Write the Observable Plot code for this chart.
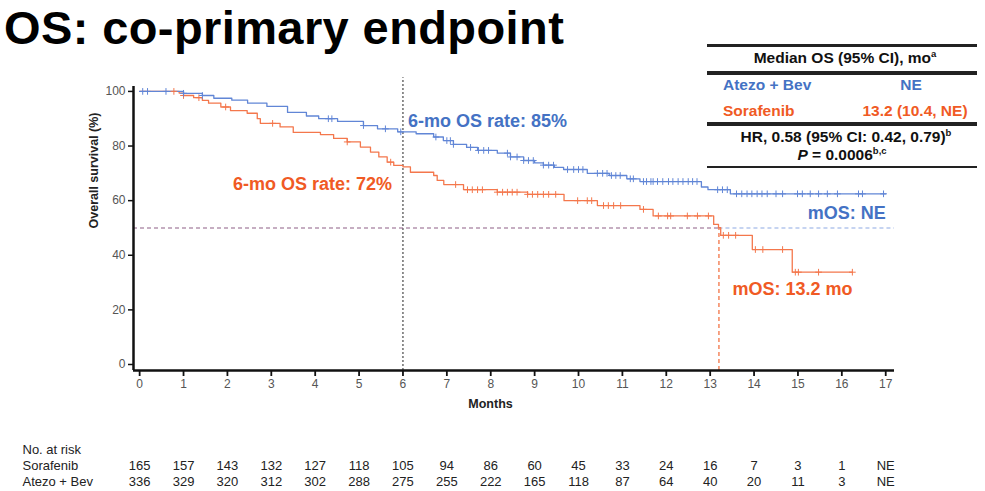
<!DOCTYPE html>
<html>
<head>
<meta charset="utf-8">
<script src="https://cdn.jsdelivr.net/npm/d3@7"></script>
<script src="https://cdn.jsdelivr.net/npm/@observablehq/plot@0.6"></script>
<style>
body{margin:0;background:#fff;}
#wrap{position:relative;width:985px;height:491px;overflow:hidden;font-family:"Liberation Sans",Arial,sans-serif;}
#title{position:absolute;left:4px;top:0px;font-weight:bold;font-size:47px;line-height:normal;letter-spacing:0.4px;color:#000;white-space:nowrap;}
#main{position:absolute;left:0;top:50px;}
#risk{position:absolute;left:0;top:420px;}
#stats{position:absolute;left:707px;top:43px;width:270px;height:130px;font-weight:bold;font-size:15.5px;color:#111;}
.rule{position:absolute;left:0;width:270px;background:#222;}
.t{position:absolute;white-space:nowrap;line-height:1;}
.c{transform:translate(-50%,-50%);}
.l{transform:translate(0,-50%);}
sup{font-size:9.5px;vertical-align:6px;line-height:0;}
</style>
</head>
<body>
<div id="wrap">
  <div id="title"></div>
  <div id="main"></div>
  <div id="risk"></div>
  <div id="stats"></div>
</div>
<script>
// ---------- data ----------
const titleText = "OS: co-primary endpoint";

const monthTicks = [0,1,2,3,4,5,6,7,8,9,10,11,12,13,14,15,16,17];
const survTicks = [0,20,40,60,80,100];

// Atezo + Bev KM step points (months, survival %)
const atezoTime = [0,1.0,1.43,1.69,2.1,2.46,2.9,3.37,3.8,4.08,4.51,5.1,5.42,5.88,6.3,6.7,6.92,7.15,7.45,7.7,8.15,8.45,8.75,9.0,9.2,9.45,9.66,10.2,10.7,11.1,11.4,12.8,12.95,13.46,17.0];
const atezoSurv = [100,99.3,98.5,97.5,96.8,95.7,94.5,92.3,91,90,89,87.5,86.3,85.2,84.5,83.3,82,80.6,79.5,78.4,77.4,76,74.7,73.8,73,72.2,71.4,70,69.2,68,67,65,64,62.5,62.5];
const atezoCensor = [0.07,0.18,0.6,1.0,1.43,4.3,4.38,5.1,5.6,5.95,6.75,7.0,7.08,7.15,7.54,7.72,7.84,7.95,8.38,8.45,8.6,8.75,8.86,8.97,9.2,9.32,9.43,9.75,9.89,10.0,10.1,10.43,10.55,10.65,10.75,10.85,10.95,11.18,11.25,11.48,11.55,11.65,11.7,11.8,11.92,12.05,12.15,12.27,12.38,12.5,12.6,12.7,13.17,13.28,13.39,13.6,13.72,13.84,13.95,14.07,14.18,14.3,14.5,14.65,14.99,15.1,15.28,15.47,15.67,15.9,16.38,16.47,16.95];

// Sorafenib KM step points
const sorafTime = [0,0.9,1.0,1.23,1.43,1.57,1.85,2.07,2.45,2.68,2.75,3.2,3.5,4.12,4.42,4.73,5.03,5.26,5.45,5.64,5.79,6.0,6.17,6.7,6.78,6.93,7.38,8.15,8.84,9.67,10.43,11.4,11.7,13.08,13.19,13.24,13.96,14.87,16.24];
const sorafSurv = [100,99.4,98.5,97.7,96.7,95.7,94.3,93,92,90,88.3,87,85,84.2,82.8,81.5,79.6,77.8,76,74.1,72.9,72.4,70.4,69.2,67.4,65.9,64,63.1,62.3,60,58.2,56.8,54.4,51.3,50.1,47.3,42.1,33.8,33.8];
const sorafCensor = [0.78,1.0,1.35,1.96,3.03,4.73,5.72,7.2,7.47,7.58,7.7,7.81,8.15,8.27,8.38,8.49,8.6,8.84,8.95,9.07,9.2,9.32,9.48,9.98,10.2,10.3,10.57,10.68,10.8,10.96,11.48,11.82,12.03,12.1,12.48,12.71,12.96,13.3,13.42,13.58,14.03,14.2,14.65,14.94,15.01,15.47,16.24];

const sixMonth = 6;
const atezoSixRate = 85;
const sorafSixRate = 72;
const medianLevel = 50;
const sorafMedian = 13.2;
const lastMonth = 17;

const armNames = ["Sorafenib", "Atezo + Bev"];
const riskHeader = "No. at risk";
const sorafRisk = [165,157,143,132,127,118,105,94,86,60,45,33,24,16,7,3,1,"NE"];
const atezoRisk = [336,329,320,312,302,288,275,255,222,165,118,87,64,40,20,11,3,"NE"];

const statsHeader = 'Median OS (95% CI), mo<sup>a</sup>';
const statsArms = ["Atezo + Bev", "Sorafenib"];
const statsValues = ["NE", "13.2 (10.4, NE)"];
const statsHR = 'HR, 0.58 (95% CI: 0.42, 0.79)<sup>b</sup>';
const statsP = '<i>P</i> = 0.0006<sup>b,c</sup>';

// ---------- styling ----------
const blue = "#4472c4", red = "#f05a24";
const blueLine = "#6186d6", redLine = "#f4774c";
const xDomain = [-0.14, 17.2];
const yDomain = [-2.2, 101.8];

function stepAt(times, surv, t) {
  const i = Math.max(0, d3.bisectRight(times, t) - 1);
  return surv[i];
}

const atezo = atezoTime.map((t, i) => ({t, s: atezoSurv[i]}));
const soraf = sorafTime.map((t, i) => ({t, s: sorafSurv[i]}));
const censA = atezoCensor.map(t => ({t, s: stepAt(atezoTime, atezoSurv, t)}));
const censS = sorafCensor.map(t => ({t, s: stepAt(sorafTime, sorafSurv, t)}));

document.getElementById("title").textContent = titleText;

const main = Plot.plot({
  width: 985, height: 370,
  marginTop: 36, marginBottom: 50, marginLeft: 133, marginRight: 91,
  x: {domain: xDomain},
  y: {domain: yDomain},
  style: {fontFamily: "Liberation Sans, Arial, sans-serif", fontSize: "12px", background: "transparent", overflow: "visible"},
  marks: [
    Plot.ruleX([sixMonth], {y1: yDomain[0], y2: 105, stroke: "#222", strokeDasharray: "2,2", strokeWidth: 1}),
    Plot.ruleY([medianLevel], {x1: xDomain[0], x2: sorafMedian, stroke: "#8e5f86", strokeDasharray: "4,3", strokeWidth: 1.1}),
    Plot.ruleY([medianLevel], {x1: sorafMedian, x2: xDomain[1], stroke: "#8ea9e3", strokeDasharray: "4,3", strokeWidth: 1.1}),
    Plot.ruleX([sorafMedian], {y1: yDomain[0], y2: medianLevel, stroke: red, strokeDasharray: "4,3", strokeWidth: 1.1}),
    Plot.line(soraf, {x: "t", y: "s", curve: "step-after", stroke: redLine, strokeWidth: 1.3}),
    Plot.line(atezo, {x: "t", y: "s", curve: "step-after", stroke: blueLine, strokeWidth: 1.3}),
    Plot.dot(censS, {x: "t", y: "s", symbol: "plus", r: 2.3, stroke: redLine, strokeWidth: 1}),
    Plot.dot(censA, {x: "t", y: "s", symbol: "plus", r: 2.3, stroke: blueLine, strokeWidth: 1}),
    // axis lines (offset frame)
    Plot.ruleY([yDomain[0]], {x1: xDomain[0], x2: xDomain[1], stroke: "#111", strokeWidth: 2.5}),
    Plot.ruleX([xDomain[0]], {y1: yDomain[0], y2: yDomain[1], stroke: "#111", strokeWidth: 2.5}),
    Plot.axisX({ticks: monthTicks, tickFormat: d => d, tickSize: 6, tickPadding: 3, stroke: "#111", strokeWidth: 1.8, fill: "#555", label: null}),
    Plot.axisY({ticks: survTicks, tickFormat: d => d, tickSize: 5, tickPadding: 3, stroke: "#111", strokeWidth: 1.5, fill: "#555", label: null}),
    Plot.text(["Months"], {frameAnchor: "bottom", dx: -23.5, dy: 37, fontWeight: "bold", fontSize: 12.5, fill: "#222"}),
    Plot.text(["Overall survival (%)"], {frameAnchor: "left", rotate: -90, dx: -40, fontWeight: "bold", fontSize: 12.5, fill: "#222"}),
    // annotations
    Plot.text([{t: sixMonth, s: atezoSixRate}], {x: "t", y: "s", text: d => `6-mo OS rate: ${d.s}%`, dx: 5, dy: -11, textAnchor: "start", fill: blue, fontWeight: "bold", fontSize: 18}),
    Plot.text([{t: sixMonth, s: sorafSixRate}], {x: "t", y: "s", text: d => `6-mo OS rate: ${d.s}%`, dx: -11, dy: 16, textAnchor: "end", fill: red, fontWeight: "bold", fontSize: 18}),
    Plot.text([{t: lastMonth, s: medianLevel}], {x: "t", y: "s", text: () => "mOS: NE", dy: -14.5, textAnchor: "end", fill: blue, fontWeight: "bold", fontSize: 18}),
    Plot.text([{t: sorafMedian, s: medianLevel}], {x: "t", y: "s", text: d => `mOS: ${d.t} mo`, dx: 13.5, dy: 61, textAnchor: "start", fill: red, fontWeight: "bold", fontSize: 18})
  ]
});
document.getElementById("main").append(main);

const riskData = [
  ...sorafRisk.map((n, i) => ({arm: armNames[0], t: monthTicks[i], n})),
  ...atezoRisk.map((n, i) => ({arm: armNames[1], t: monthTicks[i], n}))
];
const risk = Plot.plot({
  width: 985, height: 71,
  marginTop: 0, marginBottom: 0, marginLeft: 133, marginRight: 91,
  x: {domain: xDomain, axis: null},
  y: {type: "point", domain: [riskHeader, ...armNames], range: [29, 61], padding: 0, axis: null},
  style: {fontFamily: "'Liberation Sans Narrow', 'Arial Narrow', 'Liberation Sans', sans-serif", fontSize: "13px", background: "transparent", overflow: "visible"},
  marks: [
    Plot.text(riskData, {x: "t", y: "arm", text: "n", fill: "#222"}),
    Plot.text([riskHeader, ...armNames], {y: d => d, text: d => d, frameAnchor: "left", dx: -111, textAnchor: "start", fill: "#222"})
  ]
});
document.getElementById("risk").append(risk);

// stats table
const st = document.getElementById("stats");
st.innerHTML = `
  <div class="rule" style="top:1px;height:2.5px"></div>
  <div class="t c" style="left:138px;top:15px;color:#111">${statsHeader}</div>
  <div class="rule" style="top:28px;height:3.5px"></div>
  <div class="t l" style="left:16px;top:42px;color:${blue}">${statsArms[0]}</div>
  <div class="t c" style="left:204px;top:42px;color:${blue}">${statsValues[0]}</div>
  <div class="t l" style="left:16px;top:68px;color:${red}">${statsArms[1]}</div>
  <div class="t c" style="left:208px;top:68px;color:${red}">${statsValues[1]}</div>
  <div class="rule" style="top:79px;height:3.5px"></div>
  <div class="t c" style="left:139px;top:94px;color:#111">${statsHR}</div>
  <div class="t c" style="left:135px;top:112px;color:#111">${statsP}</div>
  <div class="rule" style="top:122.5px;height:2.5px"></div>
`;
</script>
</body>
</html>
